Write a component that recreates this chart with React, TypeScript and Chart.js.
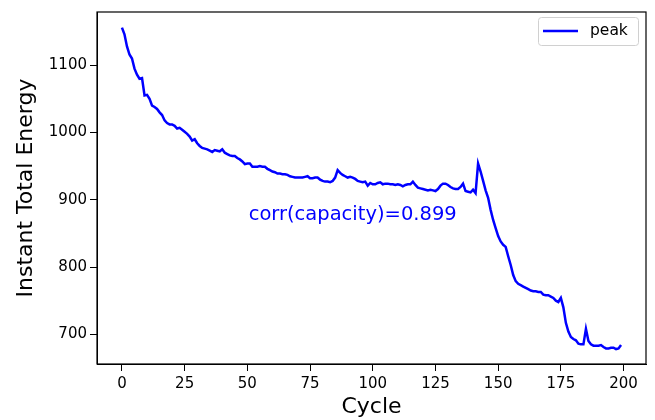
import React, { useEffect, useRef } from "react";
import { Chart, registerables } from "chart.js";

Chart.register(...registerables);

const seriesLabel = "peak";
const annotationText = "corr(capacity)=0.899";
const annotationAt = [92, 878];
const xTicks = [0, 25, 50, 75, 100, 125, 150, 175, 200];
const yTicks = [700, 800, 900, 1000, 1100];

const energy = [
  1156, 1146, 1128, 1116, 1110, 1095, 1086, 1080, 1081, 1055,
  1056, 1050, 1040, 1038, 1035, 1030, 1026, 1018, 1014, 1012,
  1012, 1010, 1006, 1007, 1004, 1001, 998, 994, 988, 990,
  984, 980, 977, 976, 975, 973, 971, 974, 973, 972,
  975, 970, 968, 966, 965, 965, 962, 960, 957, 953,
  954, 954, 949, 949, 949, 950, 949, 949, 946, 944,
  942, 941, 939, 939, 938, 938, 937, 935, 934, 933,
  933, 933, 933, 934, 935, 932, 932, 933, 933, 930,
  928, 927, 927, 926, 928, 933, 944, 940, 937, 935,
  933, 934, 933, 931, 928, 927, 926, 927, 921, 925,
  923, 923, 925, 926, 923, 924, 924, 923, 923, 922,
  923, 922, 920, 922, 923, 923, 927, 922, 918, 917,
  916, 915, 914, 915, 914, 913, 916, 921, 924, 924,
  922, 919, 917, 916, 916, 919, 924, 913, 912, 911,
  915, 910, 954, 942, 928, 914, 903, 885, 870, 858,
  846, 838, 833, 830, 816, 803, 788, 779, 775, 773,
  771, 769, 767, 765, 764, 764, 763, 763, 759, 758,
  758, 756, 754, 750, 748, 754, 740, 717, 704, 696,
  693, 691, 686, 685, 685, 708, 690, 685, 683, 683,
  683, 684, 681, 679, 679, 680, 680, 678, 679, 684,
];

const FONT = "'DejaVu Sans', sans-serif";
const BLUE = "#0000ff";

const framePlugin = {
  id: "frame",
  afterDatasetsDraw(chart: any) {
    const { ctx, chartArea: a, scales } = chart;
    ctx.save();
    // annotation
    ctx.fillStyle = BLUE;
    ctx.font = `19.5px ${FONT}`;
    ctx.textAlign = "center";
    ctx.textBaseline = "middle";
    ctx.fillText(
      annotationText,
      scales.x.getPixelForValue(annotationAt[0]),
      scales.y.getPixelForValue(annotationAt[1])
    );
    // frame
    ctx.strokeStyle = "#000";
    ctx.lineWidth = 1.2;
    ctx.strokeRect(a.left, a.top, a.right - a.left, a.bottom - a.top);
    // legend
    const bx = 538, by = 17, bw = 100, bh = 28;
    ctx.fillStyle = "rgba(255,255,255,0.8)";
    ctx.strokeStyle = "#d0d0d0";
    ctx.lineWidth = 1;
    ctx.beginPath();
    if ((ctx as any).roundRect) (ctx as any).roundRect(bx + 0.5, by + 0.5, bw, bh, 3);
    else ctx.rect(bx + 0.5, by + 0.5, bw, bh);
    ctx.fill();
    ctx.stroke();
    ctx.strokeStyle = BLUE;
    ctx.lineWidth = 2.5;
    ctx.beginPath();
    ctx.moveTo(543, 31);
    ctx.lineTo(578, 31);
    ctx.stroke();
    ctx.fillStyle = "#000";
    ctx.font = `15.5px ${FONT}`;
    ctx.textAlign = "left";
    ctx.textBaseline = "middle";
    ctx.fillText(seriesLabel, 590, 31);
    ctx.restore();
  },
};

export default function App() {
  const ref = useRef<HTMLCanvasElement>(null);
  useEffect(() => {
    if (!ref.current) return;
    const chart = new Chart(ref.current, {
      type: "line",
      data: {
        datasets: [
          {
            label: seriesLabel,
            data: energy.map((v, i) => ({ x: i, y: v })),
            borderColor: BLUE,
            borderWidth: 2.5,
            pointRadius: 0,
            tension: 0,
            fill: false,
          },
        ],
      },
      options: {
        responsive: false,
        animation: false,
        devicePixelRatio: 1,
        layout: { padding: { top: 9, right: 9, left: 0, bottom: 0 } },
        plugins: { legend: { display: false }, tooltip: { enabled: false } },
        scales: {
          x: {
            type: "linear",
            min: -9.95,
            max: 208.95,
            afterBuildTicks: (s: any) => {
              s.ticks = xTicks.map((v) => ({ value: v }));
            },
            afterFit: (s: any) => {
              s.height = 56;
            },
            ticks: {
              font: { family: FONT, size: 15 },
              color: "#000",
              padding: 4,
              maxRotation: 0,
              autoSkip: false,
              callback: (v: any) => String(v),
            },
            grid: { drawOnChartArea: false, drawTicks: true, tickLength: 7, color: "#000" },
            border: { display: true, color: "#000" },
            title: {
              display: true,
              text: "Cycle",
              font: { family: FONT, size: 22 },
              color: "#000",
              padding: { top: 0, bottom: 0 },
            },
          },
          y: {
            type: "linear",
            min: 655.8,
            max: 1179.2,
            afterBuildTicks: (s: any) => {
              s.ticks = yTicks.map((v) => ({ value: v }));
            },
            afterFit: (s: any) => {
              s.width = 97;
            },
            ticks: {
              font: { family: FONT, size: 15 },
              color: "#000",
              padding: 3,
              autoSkip: false,
              callback: (v: any) => String(v),
            },
            grid: { drawOnChartArea: false, drawTicks: true, tickLength: 7, color: "#000" },
            border: { display: true, color: "#000" },
            title: {
              display: true,
              text: "Instant Total Energy",
              font: { family: FONT, size: 22 },
              color: "#000",
              padding: { top: 13, bottom: 0 },
            },
          },
        },
      },
      plugins: [framePlugin],
    });
    return () => chart.destroy();
  }, []);
  return (
    <div style={{ position: "fixed", left: 0, top: 0, width: 655, height: 420, background: "#fff" }}>
      <canvas ref={ref} width={655} height={420} style={{ width: 655, height: 420 }} />
    </div>
  );
}
